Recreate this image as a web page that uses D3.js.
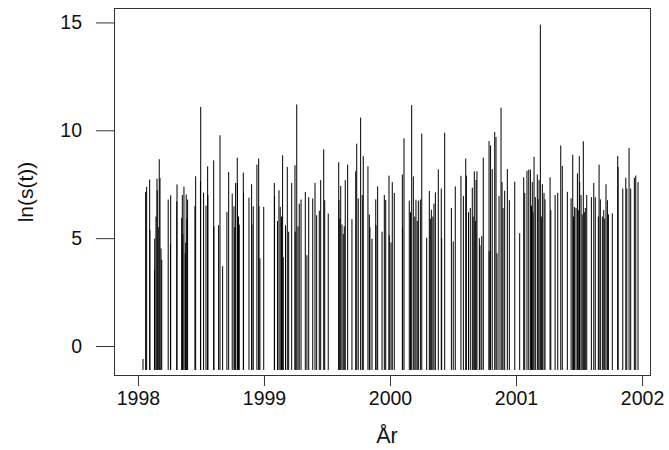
<!DOCTYPE html>
<html>
<head>
<meta charset="utf-8">
<script src="https://cdn.jsdelivr.net/npm/d3@7"></script>
<style>
  body { margin: 0; background: #fff; }
  text { font-family: "Liberation Sans", Arial, sans-serif; fill: #111; }
</style>
</head>
<body>
<div id="chart"></div>
<script>
var years = [
  1998.040, 1998.061, 1998.069, 1998.093, 1998.095, 1998.131, 1998.133, 1998.151, 1998.153, 1998.169,
  1998.175, 1998.183, 1998.240, 1998.258, 1998.260, 1998.308, 1998.310, 1998.347, 1998.352, 1998.353,
  1998.365, 1998.375, 1998.383, 1998.394, 1998.452, 1998.458, 1998.496, 1998.498, 1998.521, 1998.540,
  1998.553, 1998.555, 1998.601, 1998.603, 1998.640, 1998.651, 1998.672, 1998.706, 1998.720, 1998.748,
  1998.762, 1998.775, 1998.788, 1998.790, 1998.804, 1998.836, 1998.838, 1998.881, 1998.902, 1998.904,
  1998.915, 1998.944, 1998.958, 1998.960, 1998.968, 1998.998,
  1999.082, 1999.084, 1999.119, 1999.129, 1999.148, 1999.153, 1999.185, 1999.196, 1999.220, 1999.246,
  1999.248, 1999.260, 1999.270, 1999.280, 1999.294, 1999.328, 1999.341, 1999.355, 1999.387, 1999.405,
  1999.418, 1999.439, 1999.450, 1999.474, 1999.482, 1999.510, 1999.593, 1999.595, 1999.609, 1999.619,
  1999.637, 1999.645, 1999.664, 1999.698, 1999.728, 1999.736, 1999.748, 1999.767, 1999.780, 1999.788,
  1999.825, 1999.836, 1999.841, 1999.857, 1999.887, 1999.889, 1999.902, 1999.937, 1999.955, 1999.966,
  1999.992, 1999.994,
  2000.008, 2000.018, 2000.034, 2000.098, 2000.100, 2000.111, 2000.153, 2000.172, 2000.185, 2000.206,
  2000.225, 2000.241, 2000.252, 2000.291, 2000.312, 2000.328, 2000.349, 2000.360, 2000.383, 2000.407,
  2000.410, 2000.434, 2000.487, 2000.502, 2000.518, 2000.563, 2000.582, 2000.601, 2000.606, 2000.637,
  2000.653, 2000.669, 2000.683, 2000.690, 2000.709, 2000.714, 2000.728, 2000.740, 2000.786, 2000.787,
  2000.798, 2000.811, 2000.831, 2000.841, 2000.849, 2000.865, 2000.881, 2000.889, 2000.897, 2000.910,
  2000.931, 2000.947, 2000.990,
  2001.029, 2001.061, 2001.069, 2001.087, 2001.101, 2001.114, 2001.129, 2001.143, 2001.153, 2001.169,
  2001.183, 2001.193, 2001.209, 2001.222, 2001.230, 2001.270, 2001.276, 2001.310, 2001.331, 2001.355,
  2001.367, 2001.407, 2001.437, 2001.450, 2001.463, 2001.476, 2001.487, 2001.502, 2001.505, 2001.516,
  2001.534, 2001.550, 2001.561, 2001.598, 2001.617, 2001.629, 2001.659, 2001.669, 2001.685, 2001.696,
  2001.714, 2001.725, 2001.733, 2001.764, 2001.807, 2001.810, 2001.847, 2001.871, 2001.879, 2001.897,
  2001.910, 2001.939, 2001.950, 2001.968,
  // shorter observations hidden in the dense clusters
  1998.143, 1998.161, 1998.189, 1998.356, 1998.379, 1998.389, 1998.768, 1998.798,
  1999.107, 1999.139, 1999.171, 1999.602, 1999.629,
  2000.163, 2000.197, 2000.216, 2000.320, 2000.340, 2000.623, 2000.660, 2000.677,
  2001.123, 2001.135, 2001.175, 2001.201, 2001.456, 2001.494, 2001.525, 2001.542,
  2001.653, 2001.704
];
var lnS = [
  -0.6, 7.14, 7.38, 7.72, 5.37, 3.52, 4.98, 7.76, 7.22, 8.66,
  7.8, 4.52, 6.79, 4.72, 6.99, 6.7, 7.49, 5.94, 7.0, 4.5,
  7.39, 4.3, 7.02, 6.79, 6.48, 7.87, 7.65, 11.08, 7.11, 6.51,
  8.33, 7.0, 8.61, 5.55, 5.6, 9.77, 3.7, 6.22, 8.07, 7.07,
  6.48, 7.56, 8.73, 7.55, 5.63, 8.04, 7.1, 6.88, 7.5, 5.63,
  6.48, 8.41, 8.69, 6.48, 4.06, 6.45,
  7.56, 6.95, 7.22, 6.45, 8.84, 4.12, 8.3, 5.3, 7.56, 8.38,
  5.3, 11.2, 5.55, 6.6, 6.79, 7.14, 4.21, 6.9, 6.84, 7.56,
  6.06, 6.27, 7.69, 9.12, 6.76, 6.14, 8.52, 6.76, 7.42, 5.63,
  5.55, 7.69, 8.41, 5.88, 8.1, 9.38, 6.84, 10.59, 7.0, 8.8,
  8.33, 6.1, 5.5, 4.97, 6.8, 5.6, 7.4, 5.3, 7.0, 6.77,
  7.9, 5.14,
  4.8, 7.6, 7.1, 7.95, 5.5, 9.63, 6.74, 11.17, 7.86, 6.78,
  6.74, 6.79, 9.85, 5.02, 7.19, 6.32, 6.6, 7.12, 8.19, 7.3,
  5.0, 9.89, 6.4, 4.85, 7.4, 7.89, 6.95, 8.69, 7.9, 6.4,
  7.34, 8.1, 7.7, 8.1, 5.0, 4.67, 5.1, 8.73, 9.5, 4.4,
  9.3, 8.2, 9.92, 9.69, 4.3, 6.95, 11.05, 7.6, 6.4, 7.2,
  8.2, 6.76, 7.62,
  5.23, 7.82, 7.1, 8.12, 8.18, 8.18, 7.6, 8.77, 6.9, 7.95,
  7.7, 14.9, 7.5, 7.1, 6.8, 7.82, 6.3, 7.0, 7.1, 9.3,
  8.35, 7.15, 6.85, 8.87, 6.45, 6.4, 8.0, 8.8, 7.6, 7.0,
  9.49, 6.4, 7.0, 6.9, 7.56, 6.9, 8.41, 6.8, 6.0, 6.3,
  7.5, 6.76, 6.1, 6.15, 8.81, 8.3, 7.3, 7.8, 7.3, 9.18,
  7.3, 7.8, 7.9, 7.6,
  6.0, 5.5, 4.0, 5.2, 4.8, 5.9, 5.5, 6.0,
  5.8, 6.0, 5.6, 5.9, 5.2,
  6.2, 6.0, 5.8, 5.9, 6.0, 6.2, 6.0, 5.8,
  6.5, 6.2, 6.8, 6.0, 6.0, 6.3, 6.1, 6.2,
  6.0, 5.9
];
var xTicks = [1998, 1999, 2000, 2001, 2002];
var yTicks = [0, 5, 10, 15];
var baseValue = -1.11;

var svgWidth = 669;
var svgHeight = 450;
var margin = { top: 8, right: 18, bottom: 74, left: 114 };
var width = svgWidth - margin.left - margin.right;
var height = svgHeight - margin.top - margin.bottom;

var svg = d3.select("#chart").append("svg")
    .attr("width", svgWidth)
    .attr("height", svgHeight);

var chartGroup = svg.append("g")
    .attr("transform", `translate(${margin.left}, ${margin.top})`);

var xScale = d3.scaleLinear()
    .domain([1997.81, 2002.071])
    .range([0, width]);

var yScale = d3.scaleLinear()
    .domain([-1.39, 15.67])
    .range([height, 0]);

// vertical lines (type = "h")
chartGroup.selectAll(".spike")
    .data(years)
    .enter()
    .append("line")
    .attr("class", "spike")
    .attr("x1", d => xScale(d))
    .attr("x2", d => xScale(d))
    .attr("y1", yScale(baseValue))
    .attr("y2", (d, i) => yScale(lnS[i]))
    .attr("stroke", "#000")
    .attr("stroke-width", 1);

// box
chartGroup.append("rect")
    .attr("x", 0.5)
    .attr("y", 0.5)
    .attr("width", width - 1)
    .attr("height", height - 1)
    .attr("fill", "none")
    .attr("stroke", "#333")
    .attr("stroke-width", 1);

var bottomAxis = d3.axisBottom(xScale)
    .tickValues(xTicks)
    .tickFormat(d3.format("d"))
    .tickSize(10)
    .tickPadding(5);

var leftAxis = d3.axisLeft(yScale)
    .tickValues(yTicks)
    .tickSize(18)
    .tickPadding(14);

var xAxis = chartGroup.append("g")
    .attr("transform", `translate(0, ${height})`)
    .call(bottomAxis);

var yAxis = chartGroup.append("g")
    .call(leftAxis);

[xAxis, yAxis].forEach(function(ax) {
    ax.select(".domain").remove();
    ax.selectAll("line").attr("stroke", "#333");
    ax.selectAll("text")
        .attr("font-size", "19.5px")
        .attr("font-family", "Liberation Sans, Arial, sans-serif")
        .attr("fill", "#111");
});

// axis titles
svg.append("text")
    .attr("x", 387)
    .attr("y", 443)
    .attr("text-anchor", "middle")
    .attr("font-size", "21.5px")
    .text("År");

svg.append("text")
    .attr("transform", "translate(33, 192) rotate(-90)")
    .attr("text-anchor", "middle")
    .attr("font-size", "21px")
    .text("ln(s(t))");
</script>
</body>
</html>
